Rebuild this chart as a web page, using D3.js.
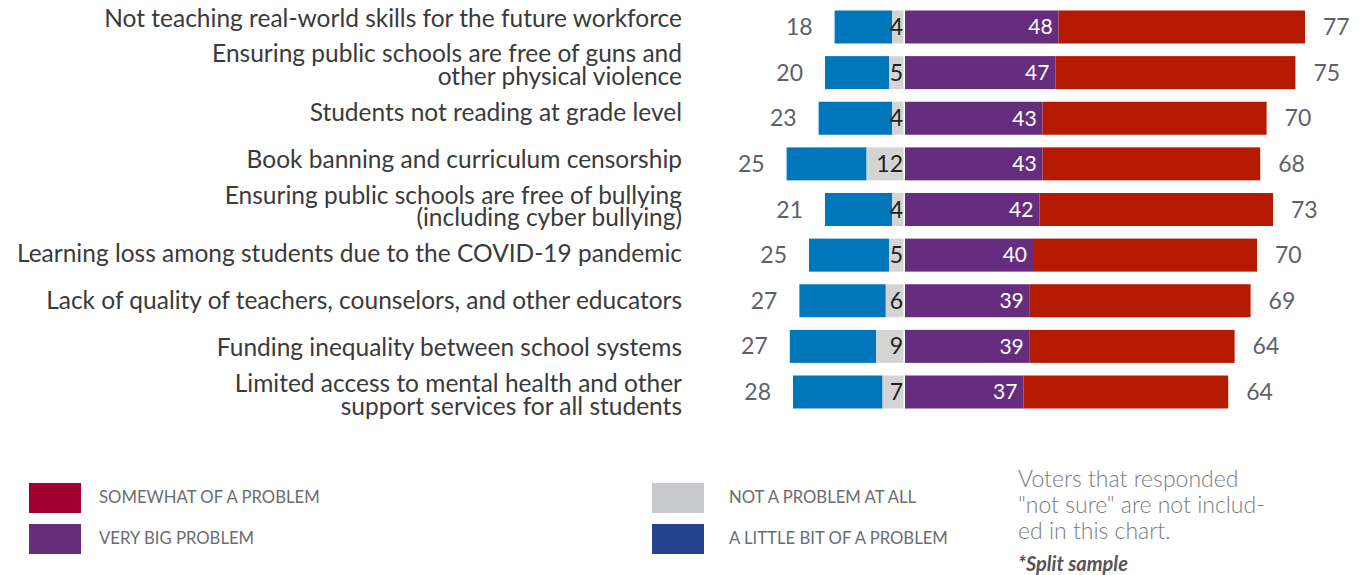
<!DOCTYPE html>
<html>
<head>
<meta charset="utf-8">
<script src="https://cdn.jsdelivr.net/npm/d3@7"></script>
<style>
  body { margin: 0; background: #fff; }
  svg { display: block; font-family: Lato, "Open Sans", sans-serif; }
</style>
</head>
<body>
<div class="graph"></div>
<script>
// data
var categories = [
    ["Not teaching real-world skills for the future workforce"],
    ["Ensuring public schools are free of guns and", "other physical violence"],
    ["Students not reading at grade level"],
    ["Book banning and curriculum censorship"],
    ["Ensuring public schools are free of bullying", "(including cyber bullying)"],
    ["Learning loss among students due to the COVID-19 pandemic"],
    ["Lack of quality of teachers, counselors, and other educators"],
    ["Funding inequality between school systems"],
    ["Limited access to mental health and other", "support services for all students"]
];
var veryBig = [48, 47, 43, 43, 42, 40, 39, 39, 37];
var somewhat = [77, 75, 70, 68, 73, 70, 69, 64, 64];
var notAtAll = [4, 5, 4, 12, 4, 5, 6, 9, 7];
var littleBit = [18, 20, 23, 25, 21, 25, 27, 27, 28];

var legendItems = [
    { name: "SOMEWHAT OF A PROBLEM", color: "#a0002f" },
    { name: "VERY BIG PROBLEM", color: "#652d7b" },
    { name: "NOT A PROBLEM AT ALL", color: "#c8c9cc" },
    { name: "A LITTLE BIT OF A PROBLEM", color: "#24448e" }
];
var noteLines = ["Voters that responded", "\"not sure\" are not includ-", "ed in this chart."];

var width = 1364, height = 575;
var idx = d3.range(categories.length);

var svg = d3.select(".graph").append("svg")
    .attr("width", width)
    .attr("height", height);

// scales
var x = d3.scaleLinear().domain([-40, 140]).range([777, 1353]);
var y = d3.scalePoint().domain(idx).range([27, 392]);
var yLabel = d3.scalePoint().domain(idx).range([18, 395]);
var barH = 33;

var rows = svg.selectAll(".row")
    .data(idx)
    .enter().append("g")
    .attr("class", "row");

// blue: a little bit
rows.append("rect")
    .attr("x", function (i) { return x(-littleBit[i] - notAtAll[i]); })
    .attr("width", function (i) { return x(littleBit[i]) - x(0); })
    .attr("y", function (i) { return y(i) - barH / 2; })
    .attr("height", barH)
    .attr("fill", "#0077bb");

// grey: not at all
rows.append("rect")
    .attr("x", function (i) { return x(-notAtAll[i]); })
    .attr("width", function (i) { return x(notAtAll[i]) - x(0) - 1.5; })
    .attr("y", function (i) { return y(i) - barH / 2; })
    .attr("height", barH)
    .attr("fill", "#d4d4d4");

// purple: very big
rows.append("rect")
    .attr("x", x(0))
    .attr("width", function (i) { return x(veryBig[i]) - x(0); })
    .attr("y", function (i) { return y(i) - barH / 2; })
    .attr("height", barH)
    .attr("fill", "#662d7f");

// red: somewhat
rows.append("rect")
    .attr("x", function (i) { return x(veryBig[i]); })
    .attr("width", function (i) { return x(somewhat[i]) - x(0); })
    .attr("y", function (i) { return y(i) - barH / 2; })
    .attr("height", barH)
    .attr("fill", "#b51a00");

// value labels
rows.append("text")
    .attr("x", function (i) { return x(-littleBit[i] - notAtAll[i]) - 22; })
    .attr("y", function (i) { return y(i); })
    .attr("dy", "0.35em")
    .attr("text-anchor", "end")
    .attr("font-size", 23)
    .attr("fill", "#5d616a")
    .text(function (i) { return littleBit[i]; });

rows.append("text")
    .attr("x", x(0) - 2)
    .attr("y", function (i) { return y(i); })
    .attr("dy", "0.35em")
    .attr("text-anchor", "end")
    .attr("font-size", 23)
    .attr("fill", "#222")
    .text(function (i) { return notAtAll[i]; });

rows.append("text")
    .attr("x", function (i) { return x(veryBig[i]) - 6; })
    .attr("y", function (i) { return y(i); })
    .attr("dy", "0.35em")
    .attr("text-anchor", "end")
    .attr("font-size", 21)
    .attr("fill", "#fff")
    .text(function (i) { return veryBig[i]; });

rows.append("text")
    .attr("x", function (i) { return x(veryBig[i] + somewhat[i]) + 18; })
    .attr("y", function (i) { return y(i); })
    .attr("dy", "0.35em")
    .attr("text-anchor", "start")
    .attr("font-size", 23)
    .attr("fill", "#5d616a")
    .text(function (i) { return somewhat[i]; });

// category labels
rows.append("text")
    .attr("text-anchor", "end")
    .attr("font-size", 24.5)
    .attr("fill", "#3a3a3a")
    .each(function (i) {
        var lines = categories[i];
        var t = d3.select(this);
        lines.forEach(function (line, k) {
            t.append("tspan")
                .attr("x", 682)
                .attr("y", yLabel(i) + (k - (lines.length - 1) / 2) * 22.5)
                .attr("dy", "0.35em")
                .text(line);
        });
    });

// legend
var legend = svg.selectAll(".legend")
    .data(legendItems)
    .enter().append("g")
    .attr("class", "legend")
    .attr("transform", function (d, i) {
        var lx = i < 2 ? 29 : 652;
        var ly = (i % 2) === 0 ? 483 : 524;
        return "translate(" + lx + "," + ly + ")";
    });

legend.append("rect")
    .attr("width", 52)
    .attr("height", 30)
    .attr("fill", function (d) { return d.color; });

legend.append("text")
    .attr("x", function (d, i) { return i < 2 ? 70 : 77; })
    .attr("y", 14)
    .attr("dy", "0.35em")
    .attr("font-size", 16.7)
    .attr("fill", "#6a6c72")
    .text(function (d) { return d.name; });

// note
svg.selectAll(".note")
    .data(noteLines)
    .enter().append("text")
    .attr("class", "note")
    .attr("x", 1018)
    .attr("y", function (d, i) { return 479 + i * 26; })
    .attr("dy", "0.35em")
    .attr("font-size", 23)
    .attr("font-weight", 300)
    .attr("fill", "#7a7b80")
    .text(function (d) { return d; });

svg.append("text")
    .attr("x", 1018)
    .attr("y", 564)
    .attr("dy", "0.35em")
    .attr("font-size", 20)
    .attr("font-weight", "bold")
    .attr("font-style", "italic")
    .attr("fill", "#555")
    .text("*Split sample");
</script>
</body>
</html>
